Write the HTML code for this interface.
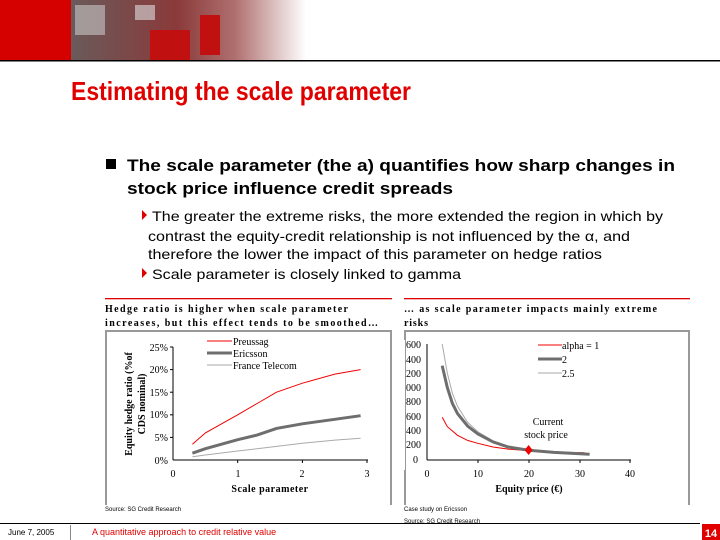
<!DOCTYPE html>
<html><head><meta charset="utf-8"><style>
body{margin:0;width:720px;height:540px;overflow:hidden;background:#fff;}
svg{display:block}
.ser{font-family:"Liberation Serif",serif;}
.san{font-family:"Liberation Sans",sans-serif;}
</style></head><body>
<svg width="720" height="540" viewBox="0 0 720 540">
<defs>
<linearGradient id="ph" x1="0" x2="1" y1="0" y2="0">
<stop offset="0" stop-color="#6a5a5a"/><stop offset="0.45" stop-color="#8a3a3a"/><stop offset="0.7" stop-color="#b07070"/><stop offset="1" stop-color="#fff"/>
</linearGradient>
</defs>
<rect x="0" y="0" width="72" height="60" fill="#d50000"/>
<rect x="71" y="0" width="235" height="60" fill="url(#ph)"/>
<rect x="75" y="5" width="30" height="30" fill="#c8c8c8" opacity="0.6"/>
<rect x="135" y="5" width="20" height="15" fill="#ddd" opacity="0.6"/>
<rect x="150" y="30" width="40" height="30" fill="#c01010"/>
<rect x="200" y="15" width="20" height="40" fill="#c01010"/>
<rect x="0" y="60" width="720" height="1.5" fill="#000"/>
<text x="71" y="100" class="san" font-size="26" font-weight="bold" fill="#e00000" textLength="340" lengthAdjust="spacingAndGlyphs">Estimating the scale parameter</text>
<rect x="106" y="159" width="10" height="10" fill="#000"/>
<text x="127" y="171" class="san" font-size="17" font-weight="bold" textLength="548" lengthAdjust="spacingAndGlyphs">The scale parameter (the a) quantifies how sharp changes in</text>
<text x="127" y="194" class="san" font-size="17" font-weight="bold" textLength="326" lengthAdjust="spacingAndGlyphs">stock price influence credit spreads</text>
<g class="san" font-size="14" fill="#000">
<polygon points="142,210 147,215 142,220" fill="#e00000"/>
<text x="152" y="221" textLength="511" lengthAdjust="spacingAndGlyphs">The greater the extreme risks, the more extended the region in which by</text>
<text x="148" y="241" textLength="482" lengthAdjust="spacingAndGlyphs">contrast the equity-credit relationship is not influenced by the α, and</text>
<text x="148" y="259" textLength="454" lengthAdjust="spacingAndGlyphs">therefore the lower the impact of this parameter on hedge ratios</text>
<polygon points="142,268 147,273 142,278" fill="#e00000"/>
<text x="152" y="279" textLength="309" lengthAdjust="spacingAndGlyphs">Scale parameter is closely linked to gamma</text>
</g>
<!-- left chart -->
<rect x="105" y="298" width="287" height="1.3" fill="#e00000"/>
<text x="105" y="312" class="ser" font-size="10" font-weight="bold" textLength="243" lengthAdjust="spacing">Hedge ratio is higher when scale parameter</text>
<text x="105" y="326" class="ser" font-size="10" font-weight="bold" textLength="273" lengthAdjust="spacing">increases, but this effect tends to be smoothed…</text>
<path d="M106,505 V331 H391 V505" fill="none" stroke="#999" stroke-width="2"/>
<g stroke="#000" stroke-width="1">
<line x1="173" y1="347" x2="173" y2="460"/><line x1="173" y1="460" x2="368" y2="460"/>
<line x1="170" y1="347" x2="173" y2="347"/><line x1="170" y1="369.6" x2="173" y2="369.6"/><line x1="170" y1="392.2" x2="173" y2="392.2"/><line x1="170" y1="414.8" x2="173" y2="414.8"/><line x1="170" y1="437.4" x2="173" y2="437.4"/>
<line x1="237.7" y1="460" x2="237.7" y2="463"/><line x1="302.4" y1="460" x2="302.4" y2="463"/><line x1="367" y1="460" x2="367" y2="463"/>
</g>
<g class="ser" font-size="10" text-anchor="end">
<text x="168" y="351">25%</text><text x="168" y="373">20%</text><text x="168" y="396">15%</text><text x="168" y="418">10%</text><text x="168" y="441">5%</text><text x="168" y="464">0%</text>
</g>
<g class="ser" font-size="10" text-anchor="middle">
<text x="173" y="477">0</text><text x="238" y="477">1</text><text x="302" y="477">2</text><text x="367" y="477">3</text>
<text x="270" y="492" font-weight="bold" letter-spacing="0.5">Scale parameter</text>
<text transform="translate(132,404) rotate(-90)" font-weight="bold">Equity hedge ratio (%of</text>
<text transform="translate(145,404) rotate(-90)" font-weight="bold">CDS nominal)</text>
</g>
<polyline points="192.4,444.2 205.4,432.9 237.7,414.8 257.1,403.5 276.5,392.2 302.4,383.2 334.8,374.1 360.6,369.6" fill="none" stroke="#f00000" stroke-width="1"/>
<polyline points="192.4,453.2 205.4,448.7 237.7,439.7 257.1,435.1 276.5,428.4 302.4,423.8 334.8,419.3 360.6,415.7" fill="none" stroke="#6e6e6e" stroke-width="3"/>
<polyline points="192.4,456.8 205.4,455 237.7,451 257.1,448.7 276.5,446.4 302.4,443.3 334.8,440.1 360.6,438.3" fill="none" stroke="#aaa" stroke-width="1"/>
<line x1="207" y1="341" x2="232" y2="341" stroke="#f00000"/>
<line x1="207" y1="353" x2="232" y2="353" stroke="#6e6e6e" stroke-width="3"/>
<line x1="207" y1="365" x2="232" y2="365" stroke="#aaa"/>
<g class="ser" font-size="10"><text x="233" y="345">Preussag</text><text x="233" y="357">Ericsson</text><text x="233" y="369">France Telecom</text></g>
<text x="105" y="511" class="san" font-size="6">Source: SG Credit Research</text>
<!-- right chart -->
<rect x="404" y="298" width="286" height="1.3" fill="#e00000"/>
<text x="404" y="312" class="ser" font-size="10" font-weight="bold" textLength="253" lengthAdjust="spacing">… as scale parameter impacts mainly extreme</text>
<text x="404" y="326" class="ser" font-size="10" font-weight="bold" textLength="24" lengthAdjust="spacing">risks</text>
<path d="M405,505 V331 H689 V505" fill="none" stroke="#999" stroke-width="2"/>
<g stroke="#000" stroke-width="1">
<line x1="427" y1="344" x2="427" y2="460"/><line x1="427" y1="460" x2="631" y2="460"/>
<line x1="478" y1="460" x2="478" y2="463"/><line x1="529" y1="460" x2="529" y2="463"/><line x1="580" y1="460" x2="580" y2="463"/><line x1="630" y1="460" x2="630" y2="463"/>
</g>
<g class="ser" font-size="10">
<text x="401" y="348">1600</text><text x="401" y="363">1400</text><text x="401" y="377">1200</text><text x="401" y="391">1000</text><text x="406" y="405">800</text><text x="406" y="420">600</text><text x="406" y="434">400</text><text x="406" y="448">200</text><text x="413" y="463">0</text>
</g>
<rect x="400" y="340" width="5" height="130" fill="#fff"/>
<g class="ser" font-size="10" text-anchor="middle">
<text x="427" y="477">0</text><text x="478" y="477">10</text><text x="529" y="477">20</text><text x="580" y="477">30</text><text x="630" y="477">40</text>
<text x="529" y="492" font-weight="bold">Equity price (€)</text>
<text x="548" y="425">Current</text><text x="546" y="438">stock price</text>
</g>
<polyline points="442.2,417.2 447.3,426.6 457.5,435.3 467.6,440.4 477.8,443.3 493,447 508.3,449.1 528.6,450.6 554,452 584.5,452.7" fill="none" stroke="#f00000" stroke-width="1"/>
<polyline points="442.2,344 447.3,373 452.4,393.3 457.5,406.3 467.6,422.3 477.8,431.7 493,440.8 508.3,446.2 528.6,449.8 554,452.4 589.6,454.2" fill="none" stroke="#aaa" stroke-width="1"/>
<polyline points="442.2,365.7 447.3,387.5 452.4,403.4 457.5,413.6 467.6,426 477.8,433.9 493,441.9 508.3,447 528.6,450.2 554,452.4 589.6,454.2" fill="none" stroke="#6e6e6e" stroke-width="3"/>
<polygon points="528.6,445 532.6,450 528.6,455 524.6,450" fill="#f00000"/>
<line x1="538" y1="345" x2="562" y2="345" stroke="#f00000"/>
<line x1="538" y1="359" x2="562" y2="359" stroke="#6e6e6e" stroke-width="3"/>
<line x1="538" y1="373" x2="562" y2="373" stroke="#aaa"/>
<g class="ser" font-size="10"><text x="562" y="349">alpha = 1</text><text x="562" y="363">2</text><text x="562" y="377">2.5</text></g>
<text x="404" y="511" class="san" font-size="6">Case study on Ericsson</text>
<text x="404" y="523" class="san" font-size="6">Source: SG Credit Research</text>
<!-- footer -->
<rect x="0" y="523" width="700" height="1" fill="#000"/>
<text x="8" y="535" class="san" font-size="8">June 7, 2005</text>
<rect x="70" y="525" width="1" height="15" fill="#888"/>
<text x="92" y="535" class="san" font-size="9" fill="#e00000">A quantitative approach to credit relative value</text>
<rect x="702" y="524" width="18" height="16" fill="#e00000"/>
<text x="711" y="537" class="san" font-size="11" font-weight="bold" fill="#fff" text-anchor="middle">14</text>
</svg>
</body></html>
